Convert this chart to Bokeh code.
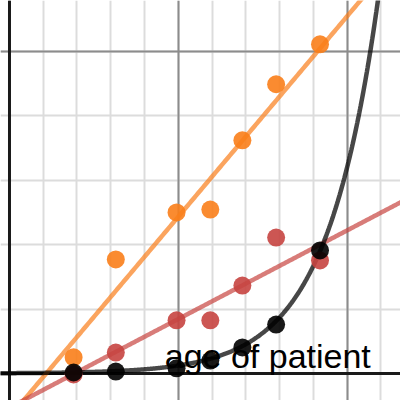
import numpy as np
from bokeh.plotting import figure
from bokeh.models import Grid, SingleIntervalTicker, Span, ColumnDataSource
from bokeh.core.properties import value
from bokeh.embed import file_html
from bokeh.resources import INLINE

# Patient ages (shared by all three series)
ages = [3.8, 6.3, 9.9, 11.9, 13.8, 15.8, 18.4]

# Measured series
orange_vals = [0.50, 3.54, 5.00, 5.09, 7.24, 8.98, 10.22]
red_vals = [-0.03, 0.65, 1.65, 1.65, 2.73, 4.22, 3.51]
black_vals = [0.03, 0.06, 0.16, 0.40, 0.81, 1.52, 3.82]

# Fitted models: linear (slope, intercept) and exponential (a, b) for y = a*e^(b x)
orange_fit = [0.622, -1.354]
red_fit = [0.275, -1.06]
black_fit = [0.0096, 0.325]

label_text = "age of patient"
label_pos = [9.2, 0.53]

X0, X1 = -0.533, 23.17
Y0, Y1 = -0.839, 11.58

p = figure(width=400, height=400, x_range=(X0, X1), y_range=(Y0, Y1),
           output_backend="svg", toolbar_location=None, min_border=0,
           background_fill_color="white", border_fill_color="white")
p.outline_line_color = None
p.xaxis.visible = False
p.yaxis.visible = False
p.xgrid.visible = False
p.ygrid.visible = False

# minor grid
for dim in (0, 1):
    g = Grid(dimension=dim, ticker=SingleIntervalTicker(interval=2),
             grid_line_color="#dcdcdc", grid_line_width=2)
    p.add_layout(g)
# major grid
for dim in (0, 1):
    g = Grid(dimension=dim, ticker=SingleIntervalTicker(interval=10),
             grid_line_color="#8c8c8c", grid_line_width=2)
    p.add_layout(g)

# axes through the origin
p.add_layout(Span(location=0, dimension="height", line_color="#1a1a1a",
                  line_width=3, level="underlay"))
p.add_layout(Span(location=0, dimension="width", line_color="#1a1a1a",
                  line_width=3, level="underlay"))

xs = np.linspace(X0 - 1, X1 + 1, 400)
p.line(xs, orange_fit[0] * xs + orange_fit[1], line_color="#fa7e19",
       line_alpha=0.7, line_width=4.5)
p.line(xs, red_fit[0] * xs + red_fit[1], line_color="#c74440",
       line_alpha=0.7, line_width=4.5)
xc = np.linspace(X0 - 1, 22.5, 600)
p.line(xc, black_fit[0] * np.exp(black_fit[1] * xc), line_color="#000000",
       line_alpha=0.72, line_width=4.5)

src = ColumnDataSource(dict(age=ages, o=orange_vals, r=red_vals, b=black_vals))
p.scatter("age", "o", source=src, size=18, fill_color="#fa7e19",
          fill_alpha=0.9, line_color=None)
p.scatter("age", "r", source=src, size=18, fill_color="#c74440",
          fill_alpha=0.9, line_color=None)
p.scatter("age", "b", source=src, size=18, fill_color="#000000",
          fill_alpha=0.9, line_color=None)

p.text(x=[label_pos[0]], y=[label_pos[1]], text=[label_text],
       text_font=value("Liberation Sans"), text_font_size="34px",
       text_color="#000000", text_baseline="alphabetic", text_align="left")

open("out.html", "w").write(file_html(p, INLINE))
